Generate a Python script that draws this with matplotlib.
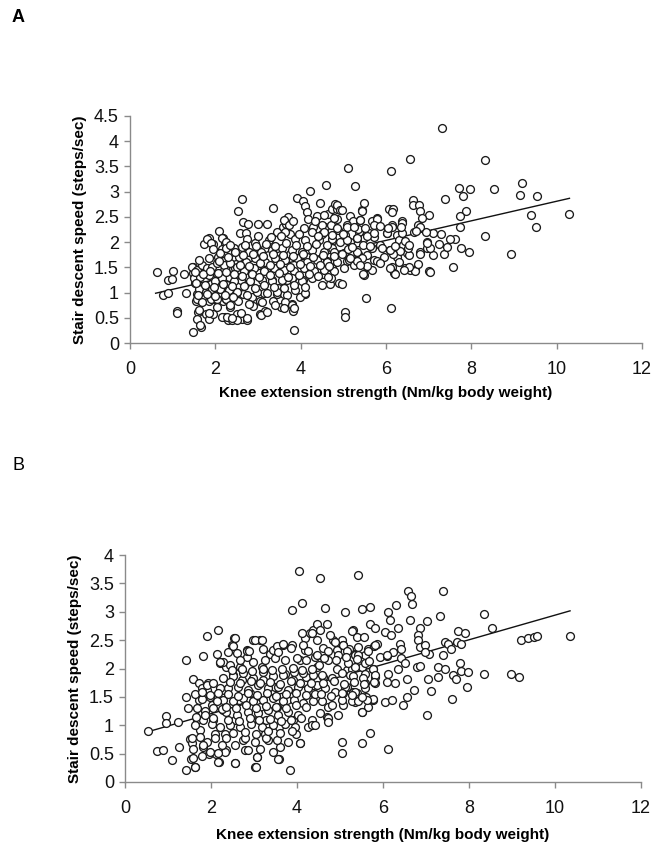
import matplotlib
matplotlib.use("Agg")
import matplotlib.pyplot as plt
import numpy as np

plt.rcParams['font.family'] = ['Liberation Sans', 'DejaVu Sans']

# ---------------- Panel A data (knee strength, stair descent speed) ----------------
a_x = [0.63,0.77,0.90,0.88,0.99,1.00,1.11,1.11,1.31,1.27,1.47,1.47,1.48,1.52,1.55,1.60,1.58,1.66,1.56,1.63,
       1.72,1.73,1.84,1.80,1.84,1.86,1.78,1.84,1.94,1.99,1.97,1.91,1.94,2.03,2.08,2.03,2.07,2.17,2.23,2.15,
       2.19,2.11,2.17,2.19,2.25,2.23,2.30,2.38,2.34,2.38,2.33,2.42,2.36,2.44,2.48,2.54,2.62,2.58,2.64,2.73,
       2.77,2.50,2.62,2.75,2.54,2.64,2.70,2.58,2.70,2.81,2.85,2.87,2.89,2.97,3.00,3.20,3.05,3.16,3.05,3.13,
       3.09,3.16,3.24,3.36,3.32,3.36,3.44,3.48,3.44,3.52,3.58,3.66,3.71,3.75,3.75,3.67,3.61,3.55,3.79,3.81,
       3.85,3.83,3.91,4.06,4.10,4.14,4.22,4.18,4.10,3.98,4.06,4.14,4.30,4.38,4.45,4.49,4.57,4.60,4.65,4.73,
       4.80,4.84,4.84,4.88,4.73,4.61,4.69,4.53,5.04,5.04,5.12,5.27,5.16,5.23,5.31,5.35,5.08,5.23,
       2.74,3.60,3.72,3.83,3.64,3.45,4.07,4.27,4.50,4.54,4.70,3.25,2.94,2.63,3.87,4.11,4.42,4.74,2.78,3.06,
       3.33,3.56,3.80,4.03,4.27,4.54,4.74,2.55,2.71,2.94,3.17,3.41,3.64,3.92,4.15,4.38,4.62,2.47,2.67,2.90,
       3.13,3.37,3.60,3.84,4.07,4.31,4.54,4.74,2.59,2.82,3.10,3.33,3.56,3.80,4.03,4.27,4.50,2.51,2.74,2.98,
       3.21,3.45,3.68,3.87,4.11,2.78,3.10,3.41,3.64,3.80,2.59,3.06,3.21,3.60,3.84,2.74,2.51,4.34,4.54,
       4.84,4.93,5.44,5.38,5.67,5.79,6.14,6.37,6.76,5.09,4.85,4.77,4.73,5.05,5.36,5.59,6.02,6.26,6.65,6.96,
       4.93,5.16,5.48,5.71,5.87,6.30,6.41,4.77,5.01,5.32,5.55,6.10,6.49,6.80,6.96,4.85,5.13,5.44,5.71,5.95,
       6.26,4.77,5.01,5.24,5.55,5.67,6.14,6.45,6.57,6.69,4.70,4.89,5.48,6.18,7.00,
       7.31,6.56,8.31,6.11,9.19,7.70,7.98,8.53,7.80,9.14,9.55,7.39,6.63,6.63,5.49,6.78,6.80,7.00,6.84,6.08,
       6.17,6.13,5.43,5.39,7.88,7.73,9.39,10.29,9.51,7.73,8.31,8.92,5.53,6.11,7.58,7.02,6.69,6.53,6.43,6.20,
       6.09,5.47,7.94,7.76,7.62,7.49,7.36,7.44,7.29,7.24,7.11,7.04,6.97,7.10,6.94,6.80,6.80,6.71,6.53,6.51,
       6.45,6.38,6.38,6.33,6.17,6.09,6.02,6.13,5.80,5.71,5.56,5.71,5.67,5.78,5.55,5.31,5.16,5.11,5.09,5.09,
       5.31,5.35,5.00,4.96,4.97,4.96,
       1.81,1.89,1.95,2.16,2.24,2.12,2.24,2.35,2.47,1.46,1.57,1.69,1.81,1.92,2.04,2.20,2.35,2.51,1.50,1.65,
       1.85,2.00,2.16,2.28,2.43,1.61,1.77,1.92,2.12,2.31,2.51,1.57,1.69,1.89,2.04,2.24,2.35,1.61,1.85,2.04,
       2.16,2.28,2.39,1.65]
a_y = [1.40,0.96,0.99,1.24,1.26,1.42,0.63,0.59,0.99,1.37,0.22,1.51,1.38,1.18,0.84,0.61,0.48,0.32,0.97,1.43,
       1.50,1.96,2.09,1.37,1.04,0.84,0.58,0.48,0.58,0.88,1.00,1.17,1.96,1.50,2.22,1.37,1.70,2.09,1.99,1.86,
       1.63,1.24,1.10,0.84,0.88,0.51,0.45,0.46,0.71,0.97,1.30,1.47,1.80,1.89,1.57,2.62,2.85,2.19,2.39,2.19,
       2.36,0.58,0.48,0.45,0.84,0.97,1.17,1.70,1.89,1.70,1.37,0.91,0.74,1.20,2.36,2.36,0.58,0.64,0.84,1.00,
       1.57,1.89,1.50,2.68,1.24,0.84,0.97,1.10,1.89,2.16,2.29,2.36,2.49,2.16,1.76,1.24,0.97,0.71,0.78,0.64,
       0.25,1.30,2.88,2.82,2.72,2.59,3.01,2.45,0.97,0.91,1.24,1.70,2.29,2.52,2.78,2.16,2.29,3.14,2.55,2.65,
       2.75,2.65,2.45,2.25,2.03,1.63,1.17,1.37,0.61,0.51,3.47,3.11,2.52,2.42,2.09,1.76,1.63,1.63,
       2.07,2.44,2.34,2.41,2.21,2.21,2.27,2.21,2.34,2.21,2.34,2.04,1.98,1.91,2.07,2.04,2.04,2.07,1.81,1.81,
       1.84,1.88,1.84,1.81,1.84,1.81,1.88,1.71,1.61,1.68,1.61,1.68,1.64,1.68,1.61,1.64,1.61,1.48,1.42,1.48,
       1.42,1.48,1.45,1.42,1.48,1.42,1.45,1.48,1.25,1.22,1.25,1.22,1.25,1.28,1.22,1.28,1.15,1.02,0.95,1.02,
       0.99,1.02,0.95,1.05,0.99,0.78,0.82,0.75,0.82,0.75,0.59,0.55,0.62,0.69,0.69,0.49,0.46,2.41,2.54,
       2.74,2.64,2.64,2.44,2.41,2.47,2.34,2.41,2.34,2.34,2.27,2.47,2.14,2.14,2.21,2.18,2.18,2.14,2.21,2.01,
       2.01,2.01,2.08,2.11,1.94,2.04,1.94,1.81,1.78,1.81,1.74,1.84,1.78,1.81,1.88,1.61,1.64,1.68,1.64,1.71,
       1.71,1.42,1.48,1.55,1.51,1.45,1.51,1.48,1.45,1.45,1.28,1.18,1.35,1.38,1.42,
       4.26,3.64,3.62,3.41,3.18,3.07,3.05,3.05,2.91,2.93,2.91,2.86,2.84,2.74,2.77,2.74,2.62,2.53,2.47,2.66,
       2.66,2.60,2.62,2.43,2.62,2.51,2.53,2.55,2.30,2.30,2.12,1.76,0.89,0.70,1.50,1.40,1.42,1.50,1.45,1.36,
       1.48,1.36,1.81,1.88,2.06,2.06,1.76,1.91,2.17,1.96,1.75,1.89,1.99,2.19,2.20,1.76,2.30,2.22,1.75,1.89,
       2.03,2.19,2.37,1.83,1.76,1.84,2.19,2.30,2.45,2.34,2.12,2.19,1.89,1.63,1.53,1.63,1.68,1.86,2.04,2.30,
       2.08,2.26,2.16,1.76,2.63,1.17,
       2.06,1.98,1.87,2.09,2.00,1.78,1.88,1.94,1.81,1.51,1.45,1.55,1.48,1.51,1.58,1.55,1.58,1.51,1.28,1.31,
       1.35,1.22,1.28,1.15,1.22,1.08,1.02,1.08,1.08,1.05,1.02,0.88,0.82,0.88,0.88,0.88,0.75,0.65,0.59,0.72,
       0.52,0.52,0.49,0.36]
# additional overlapping points in the dense centre of panel A
a_core_x = [2.62,2.86,3.02,3.27,3.49,3.71,3.95,4.19,4.41,4.63,
            2.57,2.80,3.04,3.29,3.52,3.74,3.98,4.22,4.45,4.67,
            2.65,2.88,3.11,3.35,3.58,3.82,4.05,4.29,4.52,4.78,
            2.70,2.96,3.18,3.40,3.66,3.90,4.15,4.37,4.62,
            2.68,2.92,3.15,3.38,3.62,3.85,4.10,
            3.00,3.30,3.55,3.95,4.40,
            1.52,1.70,1.88,2.06,2.26,2.44,
            1.55,1.75,1.98,2.18,2.40,
            1.60,1.80,2.00,2.22,2.42,
            1.62,1.85,2.08,2.30,
            5.20,5.45,5.62,5.90,6.22,6.55,
            5.25,5.50,5.85,6.05,6.35,
            5.40,5.85,6.30,6.75]
a_core_y = [1.33,1.36,1.30,1.35,1.38,1.31,1.34,1.37,1.32,1.30,
            1.55,1.52,1.58,1.54,1.56,1.51,1.57,1.53,1.55,1.52,
            1.75,1.77,1.72,1.76,1.74,1.73,1.76,1.71,1.74,1.72,
            1.95,1.92,1.97,1.93,1.99,1.94,1.92,1.96,1.95,
            1.13,1.10,1.14,1.12,1.09,1.15,1.11,
            2.13,2.10,2.12,2.16,2.12,
            1.40,1.36,1.42,1.39,1.41,1.37,
            1.18,1.15,1.12,1.17,1.13,
            0.95,0.98,0.93,0.96,0.92,
            1.65,1.68,1.62,1.70,
            1.90,1.95,1.92,1.88,1.92,1.95,
            2.30,2.28,2.32,2.27,2.30,
            1.55,1.58,1.60,1.57]
a_fit = (0.87, 0.194)          # intercept, slope of regression line
a_fit_x = (0.6, 10.3)

# ---------------- Panel B data ----------------
b_x = [0.54,0.74,0.88,0.95,0.96,1.09,1.24,1.26,1.42,1.42,1.43,1.46,1.51,1.53,1.59,1.63,1.59,1.55,1.67,1.73,
       1.78,1.82,1.71,1.74,1.82,1.90,1.91,1.94,1.96,2.02,2.05,2.09,2.12,2.16,2.14,2.19,2.25,2.29,2.33,2.21,
       2.36,2.36,2.40,2.48,2.53,2.52,2.56,2.56,2.64,2.67,2.71,2.75,2.78,2.83,2.84,2.91,2.95,2.98,3.02,3.06,
       3.14,3.14,3.18,3.22,3.26,3.29,3.33,3.37,3.45,3.49,3.53,3.57,3.60,3.57,3.68,3.72,3.76,3.84,3.88,4.05,
       4.11,3.91,3.98,4.07,3.91,4.07,4.19,4.19,4.30,4.38,4.46,4.53,4.53,4.65,4.69,4.26,4.34,4.38,4.22,4.46,
       4.61,4.69,4.73,4.84,4.92,5.04,5.04,5.12,5.08,5.16,5.31,5.36,5.40,5.41,
       6.57,6.64,6.67,7.39,5.50,5.70,6.12,6.16,6.30,6.63,7.03,7.33,8.35,6.86,5.70,5.81,6.36,5.27,5.39,5.56,
       6.05,6.18,6.81,6.82,7.75,7.91,8.53,9.20,9.38,9.50,9.57,10.35,5.04,5.08,5.22,5.43,5.66,5.78,5.85,6.40,
       6.42,6.85,6.98,7.08,6.98,7.44,7.50,7.73,7.81,7.57,7.39,5.35,5.58,5.93,6.09,6.24,6.43,6.51,6.78,6.86,
       7.28,7.44,7.79,7.81,7.98,8.35,8.97,9.17,5.27,5.50,5.77,6.36,5.23,5.58,5.81,6.12,6.55,7.05,7.28,7.63,
       7.70,7.95,5.58,5.81,6.09,6.28,5.31,5.16,6.72,7.11,7.60,5.35,5.60,5.77,6.05,6.20,6.55,6.46,5.08,5.52,
       5.65,7.03,5.69,5.52,6.12,
       2.56,2.52,2.60,3.02,3.18,2.83,3.53,3.68,3.88,4.11,4.15,4.34,4.46,2.29,2.44,2.67,2.98,3.26,3.49,3.72,
       3.99,4.22,4.42,2.29,2.52,2.75,2.98,3.22,3.45,3.68,3.92,4.15,4.38,2.40,2.63,2.87,3.10,3.33,3.56,3.80,
       4.03,4.26,4.46,2.29,2.52,2.75,2.98,3.22,3.45,3.68,3.92,4.15,4.38,2.36,2.60,2.87,3.10,3.33,3.56,3.80,
       4.03,4.34,2.44,2.67,2.94,3.18,3.45,3.72,3.95,2.36,2.56,2.79,3.02,3.29,3.53,3.80,4.07,2.33,2.56,2.87,
       3.06,3.14,3.45,3.56,3.05,
       4.77,4.88,5.08,4.61,4.46,4.73,4.96,5.16,5.43,5.66,5.81,6.09,4.50,4.73,4.92,5.19,5.35,5.58,5.77,4.57,
       4.81,5.04,5.31,5.54,5.81,4.65,4.88,5.12,5.35,5.58,5.77,4.57,4.81,5.04,5.27,5.43,5.62,4.53,4.73,4.96,
       5.50,4.42,4.73,
       2.21,1.78,1.90,2.05,2.21,1.78,1.98,2.13,1.67,1.86,2.05,2.25,1.63,1.82,2.02,2.21,1.55,1.74,1.90,2.09,
       2.25,1.59,1.82,1.98,2.17,1.78,1.63,2.16]
b_y = [0.90,0.55,0.57,1.16,1.04,0.39,1.06,0.62,0.21,1.50,2.15,1.31,0.76,0.41,0.43,0.26,1.82,0.69,1.09,1.44,
       1.21,2.22,1.74,0.91,0.62,2.57,1.62,1.74,0.50,1.35,1.09,0.85,0.50,2.68,2.26,0.35,1.62,1.26,0.85,2.09,
       2.03,0.56,2.29,2.41,2.53,1.88,1.09,0.34,1.44,2.03,1.79,0.74,0.56,2.32,2.21,1.56,1.09,2.50,0.26,0.44,
       2.50,1.32,2.03,1.79,0.85,1.09,0.74,2.26,2.32,1.68,1.32,0.97,0.62,0.41,2.41,1.91,1.44,0.22,3.03,3.71,
       3.15,1.09,0.85,0.68,1.79,2.15,2.53,2.32,2.62,2.68,2.79,3.59,2.68,3.06,2.79,0.97,1.09,1.56,1.85,2.03,
       1.85,1.15,1.32,2.50,2.32,0.71,0.51,3.00,1.56,1.97,2.68,2.26,1.56,3.65,
       3.37,3.28,3.14,3.37,3.05,3.09,3.00,2.85,3.12,2.86,2.84,2.93,2.96,2.72,2.79,2.72,2.72,2.66,2.56,2.56,
       2.64,2.59,2.59,2.50,2.66,2.63,2.71,2.50,2.53,2.56,2.57,2.57,2.50,2.41,2.35,2.38,2.35,2.39,2.43,2.43,
       2.34,2.38,2.42,2.25,2.29,2.47,2.44,2.47,2.43,2.35,2.24,2.24,2.24,2.21,2.22,2.29,2.18,2.09,2.03,2.04,
       2.03,2.00,2.09,1.96,1.94,1.90,1.90,1.85,2.00,2.03,2.00,2.00,1.88,1.91,1.85,1.91,1.81,1.82,1.85,1.88,
       1.81,1.68,1.74,1.75,1.76,1.74,1.59,1.68,1.62,1.61,1.46,1.41,1.50,1.45,1.41,1.44,1.50,1.35,1.35,1.24,
       1.32,1.18,0.86,0.68,0.59,
       2.53,2.39,2.27,2.50,2.50,2.31,2.39,2.43,2.42,2.62,2.42,2.62,2.50,2.12,2.06,2.15,2.12,2.15,2.18,2.15,
       2.18,2.15,2.21,1.83,1.86,1.92,1.83,1.94,1.86,1.89,1.94,1.92,1.89,1.65,1.68,1.62,1.71,1.65,1.68,1.62,
       1.68,1.65,1.71,1.45,1.42,1.48,1.42,1.45,1.48,1.42,1.45,1.39,1.42,1.24,1.18,1.24,1.21,1.27,1.18,1.24,
       1.18,1.00,1.00,0.97,1.03,0.97,1.00,1.03,0.97,0.77,0.65,0.77,0.71,0.77,0.74,0.71,0.68,0.53,0.33,0.56,
       0.44,0.59,0.53,0.41,0.27,
       2.59,2.47,2.41,2.36,2.24,2.30,2.24,2.30,2.24,2.30,2.41,2.24,2.06,2.15,2.00,2.09,2.03,2.09,2.00,1.89,
       1.83,1.92,1.86,1.83,1.89,1.65,1.59,1.68,1.59,1.65,1.47,1.42,1.36,1.45,1.42,1.42,1.45,1.21,1.12,1.18,
       1.24,1.00,1.06,
       2.11,1.65,1.71,1.74,1.65,1.47,1.50,1.42,1.31,1.25,1.31,1.28,1.00,1.09,1.03,0.97,0.77,0.80,0.71,0.77,
       0.65,0.59,0.65,0.53,0.51,0.45,0.27,0.36]
# additional overlapping points in the dense centre of panel B
b_core_x = [2.40,2.62,2.85,3.08,3.30,3.52,3.75,3.98,4.20,4.42,
            2.35,2.58,2.82,3.05,3.28,3.50,3.74,3.97,4.20,
            2.45,2.68,2.92,3.15,3.38,3.60,3.85,4.08,4.32,
            2.48,2.72,2.95,3.20,3.42,3.65,3.90,4.12,4.35,
            2.40,2.65,2.90,3.12,3.38,3.62,3.86,4.10,
            2.50,2.78,3.05,3.33,3.60,3.88,
            2.88,3.22,3.55,3.85,4.25,
            4.60,4.85,5.10,5.32,5.55,5.80,
            4.62,4.90,5.14,5.40,5.68,
            4.55,4.80,5.05,5.28,5.50,
            1.62,1.80,1.98,2.16,
            1.65,1.85,2.05]
b_core_y = [1.55,1.52,1.57,1.53,1.56,1.52,1.55,1.57,1.53,1.55,
            1.33,1.31,1.35,1.30,1.34,1.32,1.30,1.35,1.32,
            1.76,1.74,1.78,1.75,1.77,1.73,1.78,1.75,1.74,
            1.97,1.99,1.96,2.00,1.97,1.99,2.01,1.97,1.99,
            1.10,1.08,1.12,1.09,1.11,1.07,1.10,1.12,
            0.87,0.88,0.85,0.90,0.86,0.89,
            2.30,2.34,2.29,2.36,2.31,
            1.75,1.78,1.73,1.76,1.72,1.77,
            2.18,2.15,2.20,2.17,2.14,
            1.55,1.52,1.57,1.54,1.50,
            1.55,1.58,1.54,1.57,
            1.15,1.18,1.12]
b_fit = (0.77, 0.217)
b_fit_x = (0.55, 10.35)

x_ticks = [0, 2, 4, 6, 8, 10, 12]
a_yticks = [0, 0.5, 1, 1.5, 2, 2.5, 3, 3.5, 4, 4.5]
b_yticks = [0, 0.5, 1, 1.5, 2, 2.5, 3, 3.5, 4]
x_label = "Knee extension strength (Nm/kg body weight)"
y_label = "Stair descent speed (steps/sec)"

W, H = 654, 849
fig = plt.figure(figsize=(W/100, H/100), dpi=100)

def add_axes_px(x0, x1, y0, y1):
    # y0 = pixel row of data minimum, y1 = pixel row of data maximum
    return fig.add_axes([x0/W, 1 - y0/H, (x1 - x0)/W, (y0 - y1)/H])

def style(ax, yticks, ymax, xlabelpad):
    ax.set_xlim(0, 12)
    ax.set_ylim(0, ymax)
    ax.set_xticks(x_ticks)
    ax.set_xticklabels([str(t) for t in x_ticks])
    ax.set_yticks(yticks)
    ax.set_yticklabels([('%g' % t) for t in yticks])
    for s in ['top', 'right']:
        ax.spines[s].set_visible(False)
    for s in ['left', 'bottom']:
        ax.spines[s].set_color('#8a8a8a')
        ax.spines[s].set_linewidth(1.0)
    ax.tick_params(axis='both', direction='out', length=4, width=1.0, color='#8a8a8a',
                   labelsize=13, labelcolor='#111111', pad=4)
    ax.tick_params(axis='x', pad=9)
    ax.set_xlabel(x_label, fontsize=11, fontweight='bold', labelpad=xlabelpad)
    ax.set_ylabel(y_label, fontsize=11, fontweight='bold', labelpad=5)

def draw(ax, xs, ys, cx, cy, fit, fit_x):
    allx = list(xs) + list(cx)
    ally = list(ys) + list(cy)
    ax.scatter(allx, ally, s=32, facecolors='white', edgecolors='#1a1a1a', linewidths=0.95,
               zorder=3, clip_on=False)
    fx = np.array(fit_x)
    ax.plot(fx, fit[0] + fit[1]*fx, color='#111111', lw=1.0, zorder=2)

axA = add_axes_px(130, 642, 343, 116)
draw(axA, a_x, a_y, a_core_x, a_core_y, a_fit, a_fit_x)
style(axA, a_yticks, 4.5, 6)

axB = add_axes_px(125, 641, 782, 555)
draw(axB, b_x, b_y, b_core_x, b_core_y, b_fit, b_fit_x)
style(axB, b_yticks, 4, 8)

fig.text(12/W, 1 - 18/H, "A", fontsize=13, fontweight='bold', va='center', ha='left')
fig.text(12/W, 1 - 466/H, "B", fontsize=13, va='center', ha='left')

fig.savefig("out.png", dpi=100)
